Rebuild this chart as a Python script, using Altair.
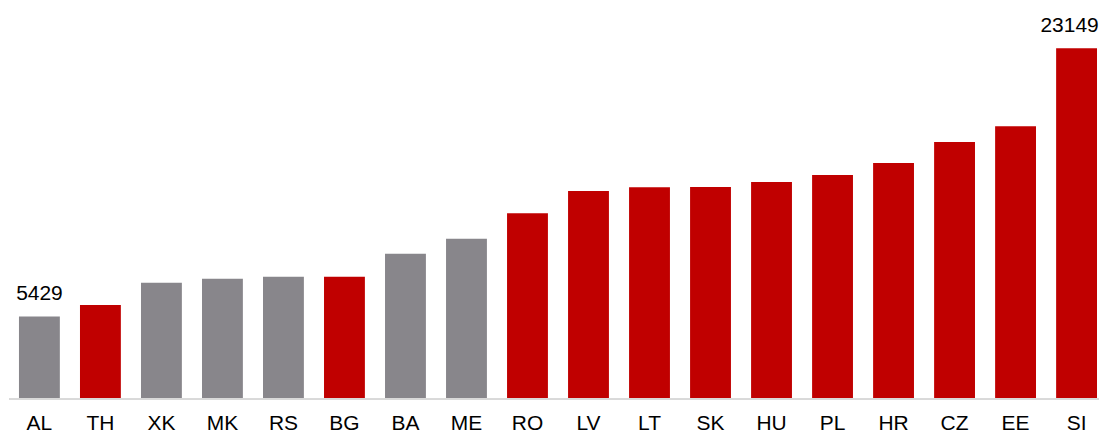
import altair as alt
import pandas as pd

countries = ["AL", "TH", "XK", "MK", "RS", "BG", "BA", "ME", "RO", "LV",
             "LT", "SK", "HU", "PL", "HR", "CZ", "EE", "SI"]
values = [5429, 6190, 7660, 7925, 8057, 8057, 9572, 10560, 12253, 13722,
          13966, 13986, 14315, 14776, 15567, 16950, 18004, 23149]
groups = ["grey", "red", "grey", "grey", "grey", "red", "grey", "grey", "red", "red",
          "red", "red", "red", "red", "red", "red", "red", "red"]
labels = ["5429", "", "", "", "", "", "", "", "", "",
          "", "", "", "", "", "", "", "23149"]

df = pd.DataFrame({"country": countries, "value": values, "group": groups, "label": labels})

FONT = "Liberation Sans"
W, H = 1092, 391

x = alt.X("country:N", sort=countries, title=None,
          scale=alt.Scale(range=[9, 1090], paddingInner=0.33, paddingOuter=0, round=False),
          axis=alt.Axis(labelAngle=0, labelFontSize=21, labelFont=FONT, labelColor="#000000",
                        labelPadding=14, ticks=False, domain=False, grid=False))
y = alt.Y("value:Q", title=None, scale=alt.Scale(domain=[0, 25777], nice=False, zero=True),
          axis=None)

base = alt.Chart(df)

bars = base.mark_bar().encode(
    x=x, y=y,
    color=alt.Color("group:N", scale=alt.Scale(domain=["grey", "red"], range=["#88868b", "#c00000"]),
                    legend=None),
)

baseline = base.mark_rule(color="#d9d9d9", strokeWidth=1.6).encode(
    x=alt.value(-1), x2=alt.value(W), y=alt.value(H + 0.8)
)

text_first = base.transform_filter(alt.datum.country == "AL").mark_text(
    fontSize=21, font=FONT, color="#000000", dy=-16, baseline="alphabetic", align="center"
).encode(x=alt.X("country:N", sort=countries), y=alt.Y("value:Q"), text="label:N")

text_last = base.transform_filter(alt.datum.country == "SI").mark_text(
    fontSize=21, font=FONT, color="#000000", dy=-16, dx=-7, baseline="alphabetic", align="center"
).encode(x=alt.X("country:N", sort=countries), y=alt.Y("value:Q"), text="label:N")

chart = (bars + baseline + text_first + text_last).properties(
    width=W, height=H, padding=0
).configure_view(strokeWidth=0)

chart.save("out.html", embed_options={"renderer": "svg", "actions": False})
